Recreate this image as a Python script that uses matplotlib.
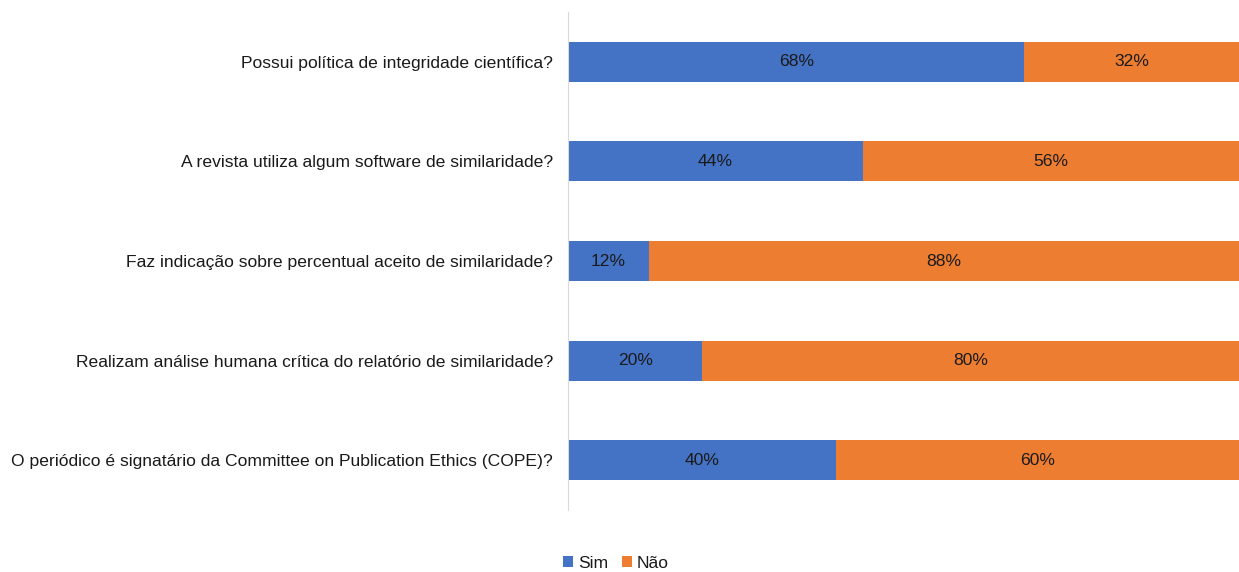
import matplotlib.pyplot as plt
import numpy as np

questions = [
    "Possui política de integridade científica?",
    "A revista utiliza algum software de similaridade?",
    "Faz indicação sobre percentual aceito de similaridade?",
    "Realizam análise humana crítica do relatório de similaridade?",
    "O periódico é signatário da Committee on Publication Ethics (COPE)?",
]
sim = [68, 44, 12, 20, 40]
nao = [32, 56, 88, 80, 60]

plt.rcParams['font.family'] = ['Liberation Sans', 'DejaVu Sans']

fig = plt.figure(figsize=(12.39, 5.72), dpi=100)
ax = fig.add_axes([568 / 1239, 1 - 510 / 572, 1 - 568 / 1239, 498 / 572])

y = np.arange(len(questions))
b1 = ax.barh(y, sim, height=0.4, color='#4472C4', label='Sim')
b2 = ax.barh(y, nao, left=sim, height=0.4, color='#ED7D31', label='Não')

for bars, vals in ((b1, sim), (b2, nao)):
    for rect, v in zip(bars, vals):
        ax.text(rect.get_x() + rect.get_width() / 2, rect.get_y() + rect.get_height() / 2,
                f'{v}%', ha='center', va='center', fontsize=12.6, color='#1a1a1a')

ax.set_xlim(0, 100)
ax.set_ylim(len(questions) - 0.5, -0.5)
ax.set_yticks(y)
ax.set_yticklabels(questions, fontsize=12.6, color='#1a1a1a')
ax.tick_params(axis='y', length=0, pad=10.8)
ax.set_xticks([])
for side in ('top', 'right', 'bottom'):
    ax.spines[side].set_visible(False)
ax.spines['left'].set_color('#D9D9D9')

fig.legend(loc='center', bbox_to_anchor=(0.497, 1 - 563 / 572), ncol=2, frameon=False,
           fontsize=12.6, handlelength=0.6, handleheight=0.6, handletextpad=0.25,
           columnspacing=0.8, labelcolor='#1a1a1a')

fig.savefig('out.png', dpi=100)
